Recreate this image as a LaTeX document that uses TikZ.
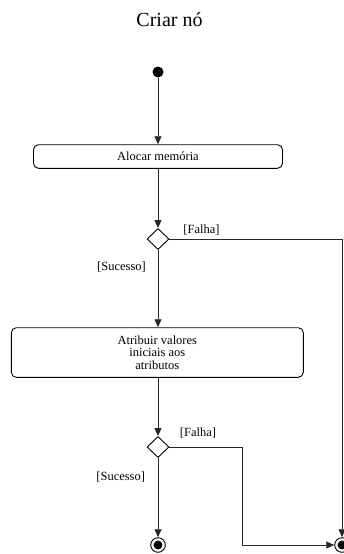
\documentclass[tikz,border=0pt]{standalone}
\usepackage{fontspec}
\setmainfont{Liberation Serif}
\usetikzlibrary{arrows.meta,shapes.geometric}

\tikzset{
  flow/.style={draw=black!85, line width=0.9pt,
    -{Triangle[length=8pt,width=7pt]}},
  plain/.style={draw=black!85, line width=0.9pt},
  action/.style={draw, line width=0.9pt, rounded corners=5pt,
    inner sep=0pt, font=\fontsize{12.5}{12.7}\selectfont, align=center},
  decision/.style={draw, diamond, line width=0.9pt, inner sep=0pt,
    minimum width=22pt, minimum height=21pt},
  guard/.style={font=\fontsize{12.5}{14}\selectfont, inner sep=0pt},
  initial/.style={circle, fill=black, inner sep=0pt, minimum size=11pt},
  final/.style={circle, draw, line width=0.9pt, inner sep=0pt,
    minimum size=14.6pt,
    path picture={\fill[black] (path picture bounding box.center) circle (4.4pt);}},
}

\begin{document}
\begin{tikzpicture}[x=1pt, y=-1pt]
  \useasboundingbox (0,0) rectangle (344,554);

  % title
  \node[font=\fontsize{20}{24}\selectfont, inner sep=0pt] (title) at (169.5,20) {Criar nó};

  % activity nodes
  \node[initial] (start) at (158,72) {};
  \node[action, minimum width=249pt, minimum height=23.6pt] (alloc) at (158,156.5) {Alocar memória};
  \node[decision] (d1) at (158,239) {};
  \node[action, minimum width=292pt, minimum height=49.6pt] (init) at (157.3,352.5)
    {Atribuir valores\\iniciais aos\\ atributos};
  \node[decision] (d2) at (158,447) {};
  \node[final] (endok) at (158,545) {};
  \node[final] (endfail) at (342,545) {};

  % guard labels
  \node[guard] (f1) at (201.5,229.5) {[Falha]};
  \node[guard] (s1) at (121.5,267) {[Sucesso]};
  \node[guard] (f2) at (198,433) {[Falha]};
  \node[guard] (s2) at (120.7,477.3) {[Sucesso]};

  % bend of the second failure branch
  \coordinate (bend) at (242.3,447);

  % control flow
  \draw[flow] (start) -- (alloc);
  \draw[flow] (alloc) -- (d1);
  \draw[flow] (d1.east) -| (endfail.north);
  \draw[flow] (d1.south) -- (init.north -| d1.south);
  \draw[flow] (init.south -| d2.north) -- (d2.north);
  \draw[flow] (d2.south) -- (endok.north);
  \draw[flow] (d2.east) -- (bend) |- (endfail.west);
\end{tikzpicture}
\end{document}
